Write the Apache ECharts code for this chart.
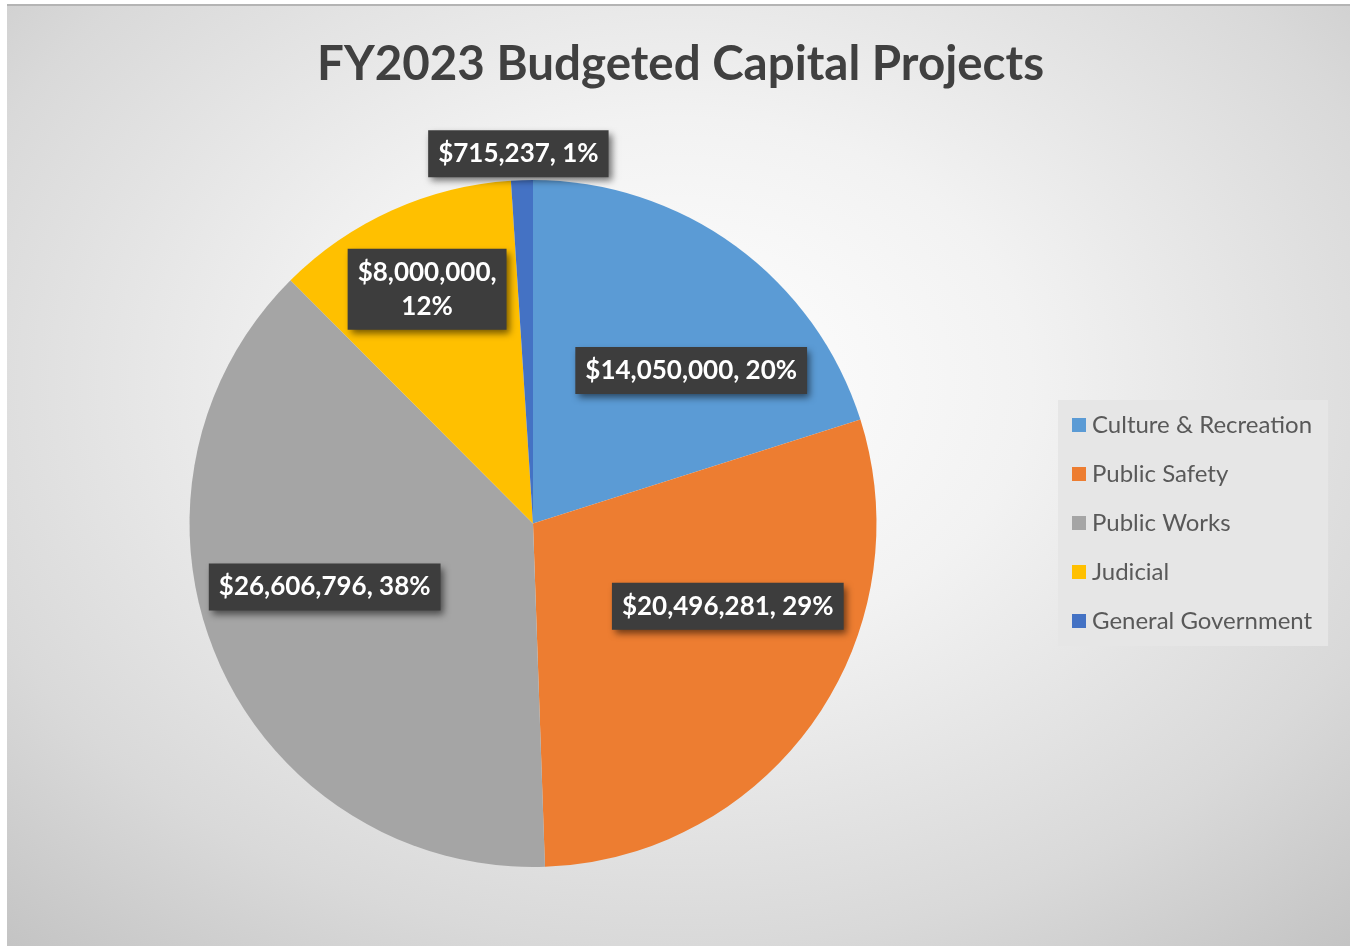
<!DOCTYPE html>
<html>
<head>
<meta charset="utf-8">
<script src="https://cdn.jsdelivr.net/npm/echarts@6/dist/echarts.min.js"></script>
<style>
html,body{margin:0;padding:0;background:#ffffff;width:1350px;height:949px;overflow:hidden;}
#frame{position:absolute;left:7px;top:4px;width:1343px;height:942px;border-top:2px solid #b4b4b4;box-sizing:border-box;
background:radial-gradient(ellipse 75% 80% at 50% 40%, #ffffff 0%, #f2f2f2 35%, #d9d9d9 75%, #c4c4c4 100%);}
#chart{position:absolute;left:0;top:0;width:1343px;height:940px;}
</style>
</head>
<body>
<div id="frame"><div id="chart"></div></div>
<script>
const titleText = "FY2023 Budgeted Capital Projects";
const categories = ["Culture & Recreation", "Public Safety", "Public Works", "Judicial", "General Government"];
const values = [14050000, 20496281, 26606796, 8000000, 715237];
const percentLabels = ["20%", "29%", "38%", "12%", "1%"];

const colors = ["#5B9BD5", "#ED7D31", "#A5A5A5", "#FFC000", "#4472C4"];
const labelOffsets = [[55, -12], [52, -18], [-48, -6], [-34, -75], [-9, -195]];
const labelBreak = [false, false, false, true, false];

function fmtMoney(v){ return "$" + v.toLocaleString("en-US"); }

const chart = echarts.init(document.getElementById("chart"), null, {renderer: "canvas"});
const data = categories.map((c, i) => ({
  name: c,
  value: values[i],
  itemStyle: {color: colors[i]},
  label: {
    offset: labelOffsets[i],
    formatter: fmtMoney(values[i]) + "," + (labelBreak[i] ? "\n" : " ") + percentLabels[i]
  }
}));

chart.setOption({
  backgroundColor: "transparent",
  animation: false,
  title: {
    text: titleText,
    left: 305,
    top: 30,
    textStyle: {fontFamily: "Lato", fontWeight: "bold", fontSize: 47.5, color: "#404040"}
  },
  legend: {
    orient: "vertical",
    left: 1051,
    top: 394,
    data: categories,
    icon: "rect",
    itemWidth: 14,
    itemHeight: 14,
    itemGap: 25,
    padding: [13, 16, 13, 14],
    backgroundColor: "#e6e6e6",
    textStyle: {fontFamily: "Lato", fontSize: 24, color: "#595959", padding: [0, 0, 0, 1]}
  },
  series: [{
    type: "pie",
    center: [526, 517.5],
    radius: [0, 343.5],
    startAngle: 90,
    clockwise: true,
    avoidLabelOverlap: false,
    data: data,
    itemStyle: {borderWidth: 0},
    emphasis: {disabled: true},
    label: {
      show: true,
      position: "inside",
      fontFamily: "Lato",
      fontWeight: "bold",
      fontSize: 26,
      lineHeight: 34,
      color: "#ffffff",
      align: "center",
      backgroundColor: "#3d3d3d",
      padding: [7, 10, 6, 10],
      shadowColor: "rgba(0,0,0,0.55)",
      shadowBlur: 7,
      shadowOffsetX: 3,
      shadowOffsetY: 4
    },
    labelLine: {show: false}
  }]
});
</script>
</body>
</html>
